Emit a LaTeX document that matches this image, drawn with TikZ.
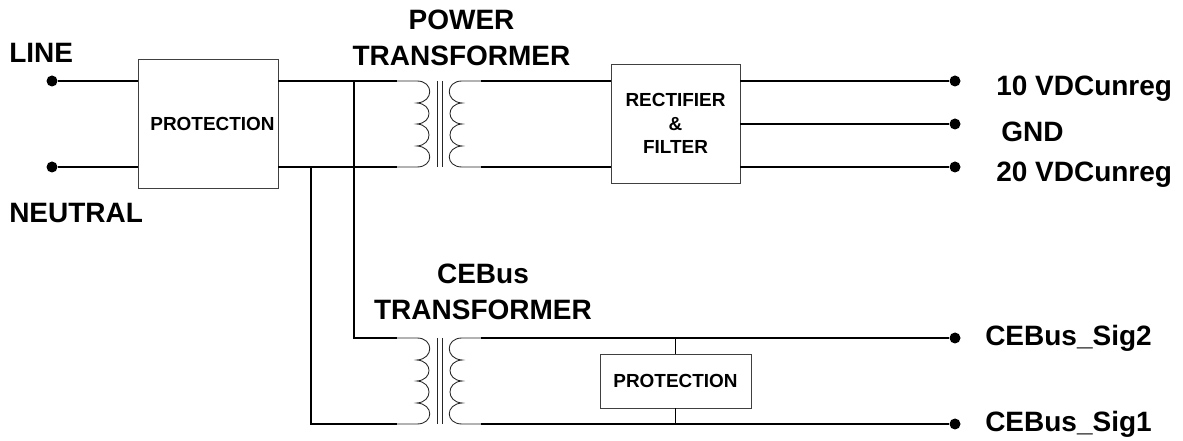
\documentclass[tikz,border=0pt]{standalone}
\usepackage{fontspec}
\setmainfont{Liberation Sans}
\tikzset{
  x=0.75pt,y=-0.75pt,
  wire/.style={line width=1.15pt,black},
  thin wire/.style={line width=0.85pt,black},
  coil/.style={line width=0.65pt,black!85},
  box/.style={draw=black!75,line width=0.7pt,inner sep=0pt,align=center,font=\bfseries\fontsize{14.2pt}{17.5pt}\selectfont},
  lab/.style={inner sep=0pt,align=center,font=\bfseries\fontsize{21pt}{27pt}\selectfont},
  term/.style={circle,fill=black,inner sep=0pt,minimum size=8.25pt},
}
\newcommand{\transformer}[2]{%
  \begin{scope}[shift={(0,#2)}]
    \coordinate (#1pt) at (397,0);
    \coordinate (#1pb) at (397,86);
    \coordinate (#1st) at (481,0);
    \coordinate (#1sb) at (481,86);
    \draw[coil] (#1pt) -- (417,0)
      .. controls (434,0) and (434,21) .. (417,22)
      .. controls (433,23) and (433,42) .. (417,43)
      .. controls (433,44) and (433,64) .. (417,65)
      .. controls (434,66) and (434,86) .. (417,86) -- (#1pb);
    \draw[coil] (#1st) -- (462,0)
      .. controls (445,0) and (445,21) .. (462,22)
      .. controls (446,23) and (446,42) .. (462,43)
      .. controls (446,44) and (446,64) .. (462,65)
      .. controls (445,66) and (445,86) .. (462,86) -- (#1sb);
    \draw[coil] (437,0) -- (437,86) (442,0) -- (442,86);
  \end{scope}}
\begin{document}
\begin{tikzpicture}
\useasboundingbox (0,0) rectangle (1183,441);
\node[box,minimum width=105pt,minimum height=96.75pt] (prot1) at (208,123.5) {\hspace*{6.75pt}PROTECTION};
\node[box,minimum width=96.75pt,minimum height=89.25pt] (rect) at (675.5,123.5) {RECTIFIER\\\&\\FILTER};
\node[box,minimum width=113.25pt,minimum height=40.5pt] (prot2) at (675.5,381) {PROTECTION};
\transformer{a}{81}
\transformer{b}{338}
\node[term] (line) at (52,81) {};
\node[term] (neut) at (52,167) {};
\node[term] (o1) at (955,81) {};
\node[term] (o2) at (955,124) {};
\node[term] (o3) at (955,167) {};
\node[term] (s2) at (955,338) {};
\node[term] (s1) at (955,424) {};
\coordinate (j1) at (354,81);
\coordinate (j2) at (311,167);
\coordinate (c1) at (354,338);
\coordinate (c2) at (311,424);
\coordinate (m1) at (675.5,338);
\coordinate (m2) at (675.5,424);
\draw[wire] (line) -- (line -| prot1.west);
\draw[thin wire] (neut) -- (neut -| prot1.west);
\draw[wire] (j1 -| prot1.east) -- (apt);
\draw[wire] (j2 -| prot1.east) -- (apb);
\draw[wire] (j1) -- (c1) -- (bpt);
\draw[wire] (j2) -- (c2) -- (bpb);
\draw[wire] (ast) -- (ast -| rect.west);
\draw[wire] (asb) -- (asb -| rect.west);
\draw[wire] (o1 -| rect.east) -- (o1);
\draw[wire] (o2 -| rect.east) -- (o2);
\draw[wire] (o3 -| rect.east) -- (o3);
\draw[wire] (bst) -- (s2);
\draw[wire] (bsb) -- (s1);
\draw[thin wire] (m1) -- (prot2.north -| m1);
\draw[thin wire] (prot2.south -| m2) -- (m2);
\node[lab,anchor=west] at (9,53) {LINE};
\node[lab,anchor=west] at (9,213) {NEUTRAL};
\node[lab] at (461.5,38) {POWER\\TRANSFORMER};
\node[lab] at (483,292) {CEBus\\TRANSFORMER};
\node[lab,anchor=west] at (996,89) {10 VDCunreg};
\node[lab,anchor=west] at (1001,132) {GND};
\node[lab,anchor=west] at (996,175) {20 VDCunreg};
\node[lab,anchor=west] at (985,338) {CEBus\_Sig2};
\node[lab,anchor=west] at (985,424) {CEBus\_Sig1};
\end{tikzpicture}
\end{document}
